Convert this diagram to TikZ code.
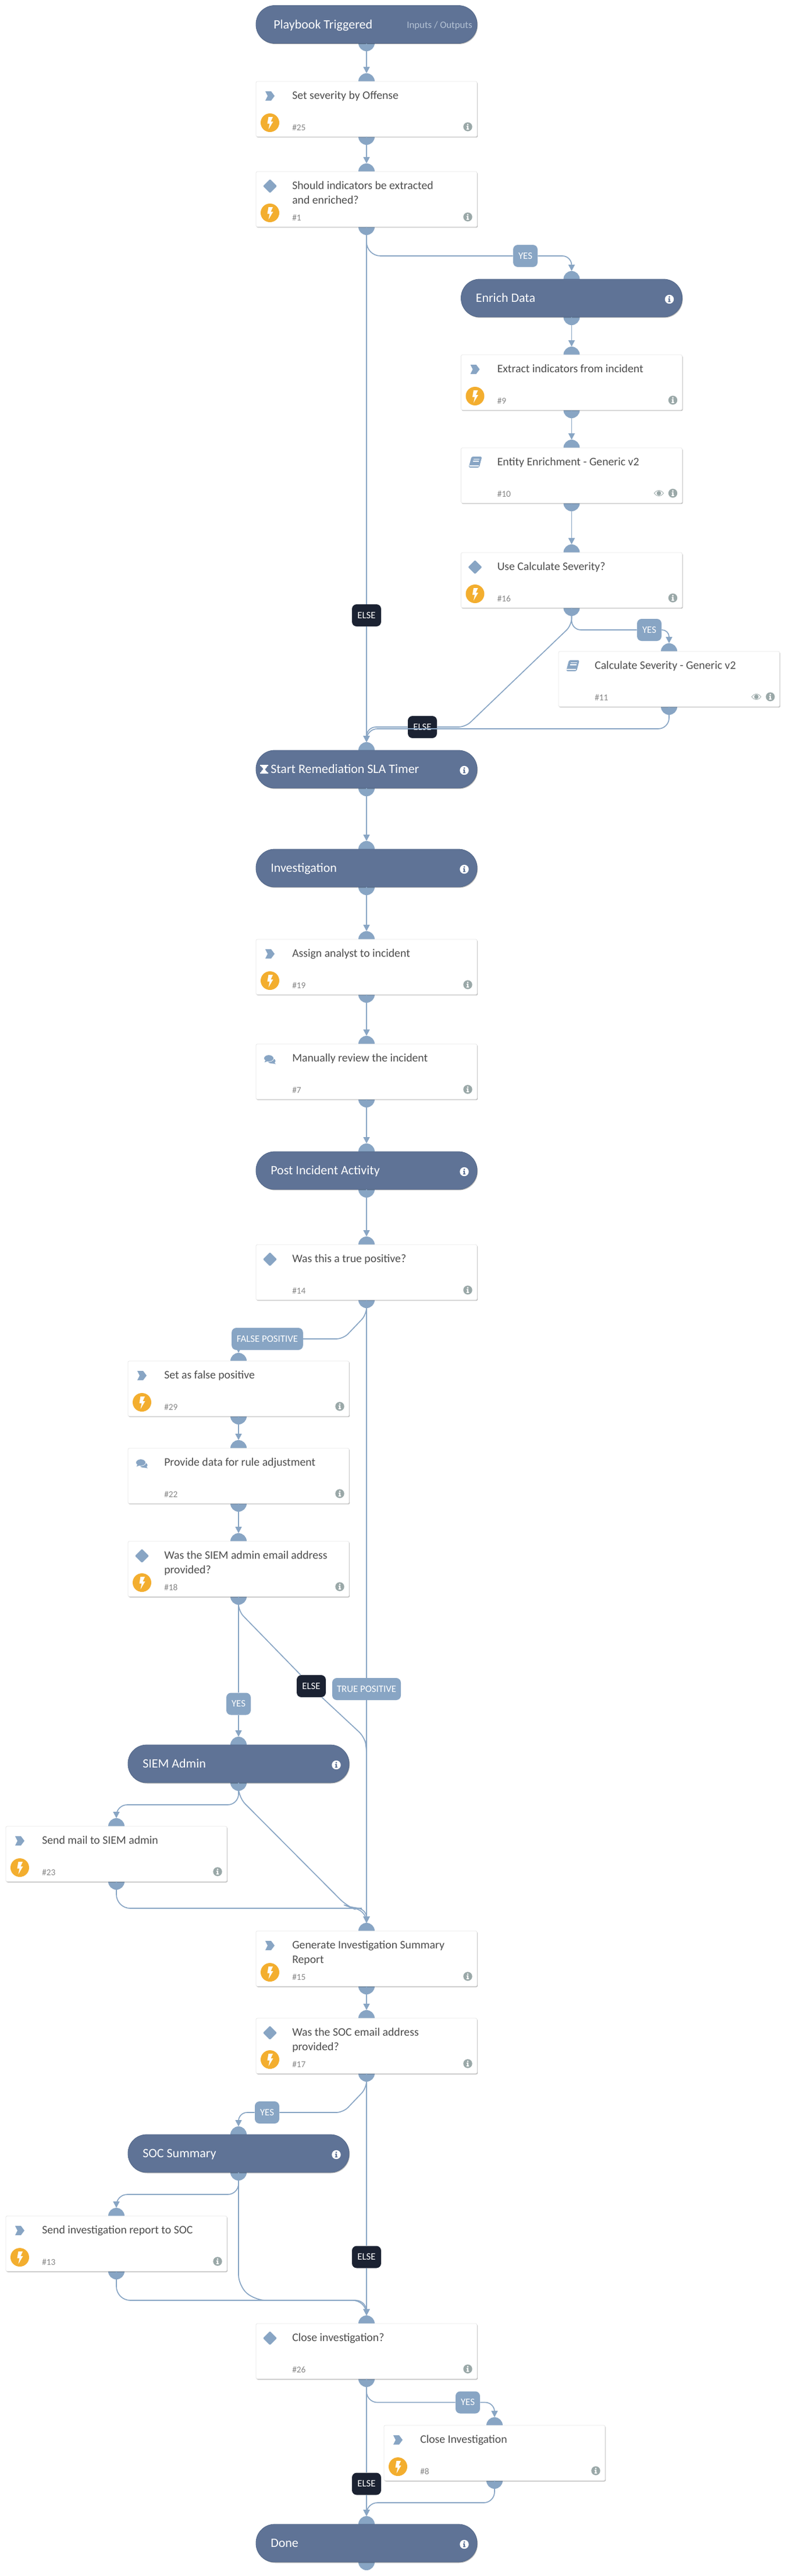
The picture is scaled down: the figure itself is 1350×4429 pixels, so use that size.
\documentclass[tikz,border=0pt]{standalone}
\usepackage{fontspec}
\setmainfont{Carlito}
\usetikzlibrary{arrows.meta,calc,positioning,shadows}

\definecolor{phasec}{HTML}{5F7396}
\definecolor{phaseedge}{HTML}{526789}
\definecolor{portc}{HTML}{88A5C4}
\definecolor{elsec}{HTML}{1B2232}
\definecolor{boltc}{HTML}{F3AE2F}
\definecolor{infoc}{HTML}{9AA8A8}
\definecolor{titlec}{HTML}{4C4C4C}
\definecolor{numc}{HTML}{858585}
\definecolor{mutedc}{HTML}{B5C3D5}

\tikzset{
  softshadow/.style={drop shadow={shadow xshift=.8pt,shadow yshift=-1.1pt,opacity=.28,fill=black}},
  cardbox/.style={draw=black!9,line width=.6pt,fill=white,rounded corners=1.8pt,minimum width=285pt,minimum height=71.25pt,inner sep=0pt,outer sep=0pt,softshadow},
  phasebox/.style={draw=phaseedge,line width=.6pt,fill=phasec,rounded corners=24pt,minimum width=285pt,minimum height=48.75pt,inner sep=0pt,outer sep=0pt,softshadow},
  cardtitle/.style={anchor=north west,inner sep=0pt,align=left,text=titlec,font=\fontsize{14.8}{18.75}\selectfont},
  cardnum/.style={anchor=base west,inner sep=0pt,text=numc,font=\fontsize{11.5}{13}\selectfont},
  phasetitle/.style={anchor=base west,inner sep=0pt,text=white,font=\fontsize{16.5}{20}\selectfont},
  yestag/.style={fill=portc,text=white,rounded corners=6pt,minimum width=31.5pt,minimum height=28.5pt,inner sep=0pt,font=\fontsize{12.6}{16}\selectfont},
  elsetag/.style={yestag,fill=elsec,minimum width=37.5pt},
  flowline/.style={draw=portc,line width=1.25pt},
  flow/.style={flowline,-{Triangle[length=8.25pt,width=8.25pt]},shorten >=10.5pt}
}

\newcommand{\port}[2]{\fill[portc] (#1,#2) circle[radius=14];}
\newcommand{\taskicon}{\fill[portc] (16,17) -- (26,17) -- (32,25) -- (26,33) -- (16,33) -- (20,25) -- cycle;}
\newcommand{\condicon}{\fill[portc,rounded corners=1pt] (12,25) -- (24,13) -- (36,25) -- (24,37) -- cycle;}
\newcommand{\bookicon}{
  \fill[portc,rounded corners=2pt] (18,15) -- (36,15) -- (31,34) -- (13,34) -- cycle;
  \draw[white,line width=.8pt] (21,19.5) -- (31.5,19.5) (20,23) -- (30.5,23) (14,31) -- (30,31);}
\newcommand{\chaticon}{
  \fill[portc] (27,29) ellipse[x radius=6.5,y radius=4.5];
  \fill[portc] (31,31) -- (34,34.5) -- (27,33) -- cycle;
  \fill[white] (22,24.5) ellipse[x radius=9,y radius=6.2];
  \fill[portc] (22,24.5) ellipse[x radius=8,y radius=5.4];
  \fill[portc] (17,27) -- (14.5,31.5) -- (22,29) -- cycle;}
% name, centre x, top y, icon, title, number
\newcommand{\card}[6]{
  \port{#2}{#3}
  \port{#2}{#3+95}
  \node[cardbox] (#1) at (#2,#3+47.5) {};
  \begin{scope}[shift={(#1.north west)}]
    #4
    \node[cardtitle] (#1-title) at (62,12.5) {\strut #5};
    \node[cardnum] (#1-num) at (62,84) {\##6};
    \infomark{364}{78}{infoc}{white}
  \end{scope}
}
% name, centre x, top y, title
\newcommand{\phase}[4]{
  \port{#2}{#3}
  \port{#2}{#3+65}
  \node[phasebox] (#1) at (#2,#3+32.5) {};
  \begin{scope}[shift={(#1.north west)}]
    \node[phasetitle] (#1-title) at (25,39.5) {#4};
    \infomark{358}{34.5}{white}{phasec}
  \end{scope}
}
\newcommand{\infomark}[4]{
  \begin{scope}[shift={(#1,#2)}]
    \fill[#3] (0,0) circle[radius=7.7];
    \fill[#4] (0,-3.9) circle[radius=1.5];
    \fill[#4] (-2,-1.6) -- (1.1,-1.6) -- (1.1,3) -- (2.1,3) -- (2.1,4.9) -- (-2.1,4.9) -- (-2.1,3) -- (-1.1,3) -- (-1.1,.2) -- (-2,.2) -- cycle;
  \end{scope}
}
\newcommand{\boltmark}[1]{
  \begin{scope}[shift={($(#1.north west)+(24,71)$)}]
    \fill[boltc] (0,0) circle[radius=16];
    \fill[white] (-2.5,-10) -- (-4.5,1.5) -- (-.5,1.5) -- (-2.5,11.5) -- (5.5,-2) -- (1.5,-2) -- (5,-10) -- cycle;
  \end{scope}
}
\newcommand{\eyemark}[1]{
  \begin{scope}[shift={($(#1.north east)+(-40,78)$)}]
    \draw[infoc,line width=.6pt] (-8,0) .. controls (-3,-6.5) and (3,-6.5) .. (8,0) .. controls (3,6.5) and (-3,6.5) .. (-8,0) -- cycle;
    \fill[infoc] (0,0) circle[radius=3.8];
  \end{scope}
}

\begin{document}
\begin{tikzpicture}[x=0.75pt,y=-0.75pt]
\path[use as bounding box,fill=white] (0,0) rectangle (1350,4429);

% main column
\port{630}{74}
\node[phasebox] (trig) at (630,42) {};
\node[phasetitle] (trig-title) at (470,49) {Playbook Triggered};
\node[anchor=base east,inner sep=0pt,text=mutedc,font=\fontsize{12.6}{15}\selectfont] (trig-io) at (812,48) {Inputs / Outputs};

\card{setsev}{630}{140}{\taskicon}{Set severity by Offense}{25}
\boltmark{setsev}
\card{should}{630}{295}{\condicon}{Should indicators be extracted\\and enriched?}{1}
\boltmark{should}

% enrichment branch
\phase{enrich}{982.5}{480}{Enrich Data}
\card{extract}{982.5}{610}{\taskicon}{Extract indicators from incident}{9}
\boltmark{extract}
\card{entity}{982.5}{770}{\bookicon}{Entity Enrichment - Generic v2}{10}
\eyemark{entity}
\card{usecalc}{982.5}{950}{\condicon}{Use Calculate Severity?}{16}
\boltmark{usecalc}
\card{calcsev}{1150}{1120}{\bookicon}{Calculate Severity - Generic v2}{11}
\eyemark{calcsev}

\phase{start}{630}{1290}{Start Remediation SLA Timer}
\fill[white] ($(start.north west)+(7,25)$) -- ++(14,0) -- ++(0,2) -- ++(-1.5,0) .. controls ++(0,3) and ++(-4,3) .. ++(-4,5.5) .. controls ++(0,2.5) and ++(4,2.5) .. ++(4,5.5) -- ++(1.5,0) -- ++(0,2) -- ++(-14,0) -- ++(0,-2) -- ++(1.5,0) .. controls ++(0,-3) and ++(4,-3) .. ++(4,-5.5) .. controls ++(0,-2.5) and ++(-4,-2.5) .. ++(-4,-5.5) -- ++(-1.5,0) -- cycle;
\phase{invest}{630}{1460}{Investigation}
\card{assign}{630}{1615}{\taskicon}{Assign analyst to incident}{19}
\boltmark{assign}
\card{manual}{630}{1795}{\chaticon}{Manually review the incident}{7}
\phase{post}{630}{1980}{Post Incident Activity}
\card{wastrue}{630}{2140}{\condicon}{Was this a true positive?}{14}

% false positive branch
\card{setfalse}{410}{2340}{\taskicon}{Set as false positive}{29}
\boltmark{setfalse}
\card{provide}{410}{2490}{\chaticon}{Provide data for rule adjustment}{22}
\card{siememail}{410}{2650}{\condicon}{Was the SIEM admin email address\\provided?}{18}
\boltmark{siememail}
\phase{siemadmin}{410}{3000}{SIEM Admin}
\card{sendmail}{200}{3140}{\taskicon}{Send mail to SIEM admin}{23}
\boltmark{sendmail}

\card{generate}{630}{3320}{\taskicon}{Generate Investigation Summary\\Report}{15}
\boltmark{generate}
\card{wassoc}{630}{3470}{\condicon}{Was the SOC email address\\provided?}{17}
\boltmark{wassoc}
\phase{socsum}{410}{3670}{SOC Summary}
\card{sendinv}{200}{3810}{\taskicon}{Send investigation report to SOC}{13}
\boltmark{sendinv}
\card{closeq}{630}{3995}{\condicon}{Close investigation?}{26}
\card{closeinv}{850}{4170}{\taskicon}{Close Investigation}{8}
\boltmark{closeinv}
\phase{done}{630}{4340}{Done}

% tags
\node[yestag] (yesenrich) at (903,440) {YES};
\node[elsetag] (elsemain) at (630,1058) {ELSE};
\node[yestag] (yescalc) at (1116,1083) {YES};
\node[elsetag] (elsecalc) at (726,1250) {ELSE};
\node[yestag,minimum width=92pt] (fptag) at (459.5,2302) {FALSE POSITIVE};
\node[yestag,minimum width=88.5pt] (tptag) at (630,2904) {TRUE POSITIVE};
\node[yestag] (yesadmin) at (410,2929.5) {YES};
\node[elsetag] (elseadmin) at (535,2899) {ELSE};
\node[yestag] (yessoc) at (459,3632) {YES};
\node[elsetag] (elsesoc) at (630,3880.5) {ELSE};
\node[yestag] (yesclose) at (804,4130.5) {YES};
\node[elsetag] (elseclose) at (630,4270.5) {ELSE};

% connectors
\draw[flow] (trig.south) -- (setsev.north);
\draw[flow] (setsev.south) -- (should.north);
\draw[flowline] (should.south) -- (elsemain.north);
\draw[flow] (elsemain.south) -- (start.north);
\draw[flowline,rounded corners=18pt] (should.south) |- (yesenrich.west);
\draw[flow,rounded corners=12pt] (yesenrich.east) -| (enrich.north);
\draw[flow] (enrich.south) -- (extract.north);
\draw[flow] (extract.south) -- (entity.north);
\draw[flow] (entity.south) -- (usecalc.north);
\draw[flowline,rounded corners=12pt] (usecalc.south) |- (yescalc.west);
\draw[flow,rounded corners=9pt] (yescalc.east) -| (calcsev.north);
\draw[flowline,rounded corners=9pt] (usecalc.south) -- ++(0,30) -- (800,1250) -- (elsecalc.east);
\draw[flow,rounded corners=12pt] (elsecalc.west) -| (start.north);
\draw[flow,rounded corners=14pt] (calcsev.south) |- ($(start.north)+(0,-37)$) -- (start.north);
\draw[flow] (start.south) -- (invest.north);
\draw[flow] (invest.south) -- (assign.north);
\draw[flow] (assign.south) -- (manual.north);
\draw[flow] (manual.south) -- (post.north);
\draw[flow] (post.south) -- (wastrue.north);
\draw[flowline] (wastrue.south) -- (tptag.north);
\draw[flow] (tptag.south) -- (generate.north);
\draw[flowline,rounded corners=9pt] (wastrue.south) -- ++(0,25) -- (590,2302) -- (fptag.east);
\draw[flow] (setfalse.north |- fptag.south) -- (setfalse.north);
\draw[flow] (setfalse.south) -- (provide.north);
\draw[flow] (provide.south) -- (siememail.north);
\draw[flowline] (siememail.south) -- (yesadmin.north);
\draw[flow] (yesadmin.south) -- (siemadmin.north);
\draw[flowline,rounded corners=9pt] (siememail.south) -- ++(0,25) -- ($(elseadmin.north west)+(7,0)$);
\draw[flow,rounded corners=9pt] ($(elseadmin.south east)+(-7,0)$) -- (626,2986) -- (630,3004) -- (generate.north);
\draw[flow,rounded corners=14pt] (siemadmin.south) |- ($(sendmail.north)+(0,-37)$) -- (sendmail.north);
\draw[flow,rounded corners=12pt] (siemadmin.south) -- ++(0,25) -- (596,3277) -- (606,3281) -| (generate.north);
\draw[flow,rounded corners=18pt] (sendmail.south) |- ($(generate.north)+(0,-39)$) -- (generate.north);
\draw[flow] (generate.south) -- (wassoc.north);
\draw[flowline] (wassoc.south) -- (elsesoc.north);
\draw[flow] (elsesoc.south) -- (closeq.north);
\draw[flowline,rounded corners=9pt] (wassoc.south) -- ++(0,25) -- (590,3632) -- (yessoc.east);
\draw[flow,rounded corners=11pt] (yessoc.west) -| (socsum.north);
\draw[flow,rounded corners=14pt] (socsum.south) |- ($(sendinv.north)+(0,-37)$) -- (sendinv.north);
\draw[flow,rounded corners=14pt] (socsum.south) -- ++(0,195) -- (438,3955) -| (closeq.north);
\draw[flow,rounded corners=18pt] (sendinv.south) |- ($(closeq.north)+(0,-40)$) -- (closeq.north);
\draw[flowline] (closeq.south) -- (elseclose.north);
\draw[flow] (elseclose.south) -- (done.north);
\draw[flowline,rounded corners=14pt] (closeq.south) |- (yesclose.west);
\draw[flow,rounded corners=12pt] (yesclose.east) -| (closeinv.north);
\draw[flow,rounded corners=14pt] (closeinv.south) |- ($(done.north)+(0,-37)$) -- (done.north);
\end{tikzpicture}
\end{document}
